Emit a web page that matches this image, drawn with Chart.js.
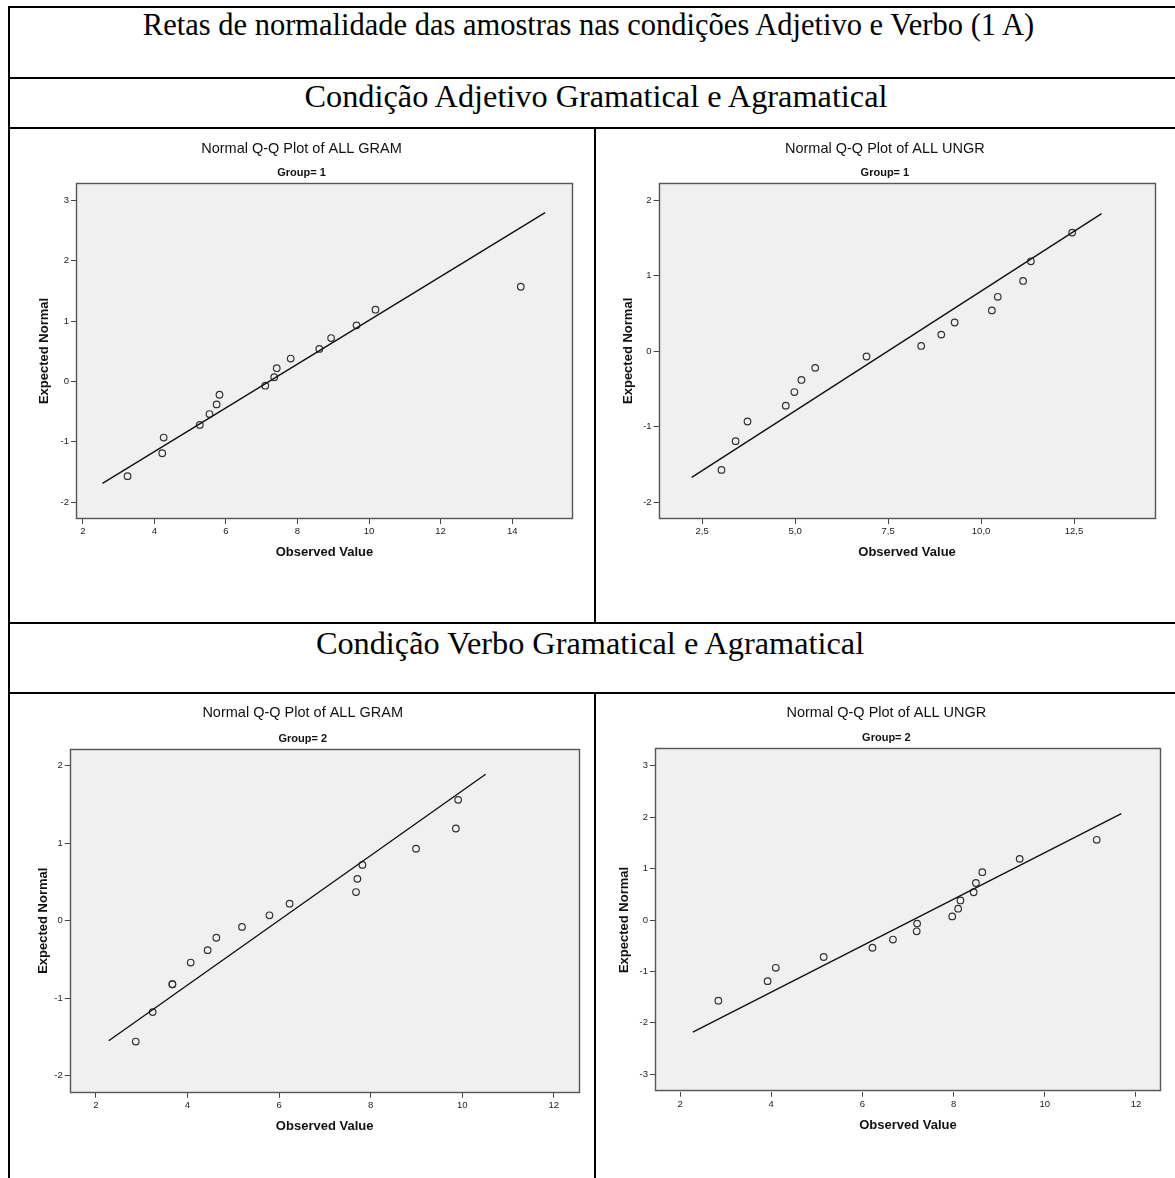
<!DOCTYPE html>
<html>
<head>
<meta charset="utf-8">
<script src="https://cdn.jsdelivr.net/npm/chart.js@4.4.0/dist/chart.umd.min.js"></script>
<style>
html, body { margin: 0; padding: 0; background: #fff; }
body { width: 1175px; height: 1178px; overflow: hidden; position: relative; }
.rule { position: absolute; background: #000; }
.cap { position: absolute; width: 1175px; text-align: center; white-space: nowrap;
       font-family: "Liberation Serif", "Times New Roman", serif; color: #000; }
.big { font-size: 30.5px; line-height: 30.5px; }
.sub { font-size: 32.3px; line-height: 32.3px; }
canvas { position: absolute; }
</style>
</head>
<body>
<!-- table rules -->
<div class="rule" style="left:8px;top:6px;width:1175px;height:2px"></div>
<div class="rule" style="left:8px;top:77px;width:1175px;height:2px"></div>
<div class="rule" style="left:8px;top:127px;width:1175px;height:2px"></div>
<div class="rule" style="left:8px;top:622px;width:1175px;height:2px"></div>
<div class="rule" style="left:8px;top:692px;width:1175px;height:2px"></div>
<div class="rule" style="left:8px;top:6px;width:2px;height:1200px"></div>
<div class="rule" style="left:594px;top:128px;width:2px;height:495px"></div>
<div class="rule" style="left:594px;top:693px;width:2px;height:500px"></div>

<div class="cap big" style="left:1px;top:10px">Retas de normalidade das amostras nas condições Adjetivo e Verbo (1 A)</div>
<div class="cap sub" style="left:8.5px;top:80px">Condição Adjetivo Gramatical e Agramatical</div>
<div class="cap sub" style="left:2.5px;top:627px">Condição Verbo Gramatical e Agramatical</div>

<canvas id="gram1"></canvas>
<canvas id="ungr1"></canvas>
<canvas id="gram2"></canvas>
<canvas id="ungr2"></canvas>

<script>
// Group 1, ALL GRAM
var gram1X = [3.25, 4.22, 4.26, 5.27, 5.54, 5.74, 5.82, 7.10, 7.35, 7.42, 7.81, 8.61, 8.94, 9.65, 10.18, 14.24];
var gram1Y = [-1.57, -1.19, -0.93, -0.72, -0.54, -0.38, -0.22, -0.07, 0.07, 0.22, 0.38, 0.54, 0.72, 0.93, 1.19, 1.57];
var gram1LineX = [2.55, 14.92];
var gram1LineY = [-1.69, 2.80];
var gram1XTicks = [2, 4, 6, 8, 10, 12, 14];
var gram1YTicks = [-2, -1, 0, 1, 2, 3];

// Group 1, ALL UNGR
var ungr1X = [3.02, 3.40, 3.72, 4.75, 4.98, 5.17, 5.54, 6.92, 8.39, 8.93, 9.29, 10.29, 10.45, 11.13, 11.34, 12.45];
var ungr1Y = [-1.57, -1.19, -0.93, -0.72, -0.54, -0.38, -0.22, -0.07, 0.07, 0.22, 0.38, 0.54, 0.72, 0.93, 1.19, 1.57];
var ungr1LineX = [2.22, 13.24];
var ungr1LineY = [-1.67, 1.82];
var ungr1XTicks = [2.5, 5.0, 7.5, 10.0, 12.5];
var ungr1YTicks = [-2, -1, 0, 1, 2];

// Group 2, ALL GRAM
var gram2X = [2.87, 3.24, 3.67, 3.67, 4.07, 4.44, 4.63, 5.19, 5.79, 6.23, 7.68, 7.71, 7.82, 8.99, 9.86, 9.91];
var gram2Y = [-1.56, -1.18, -0.82, -0.82, -0.54, -0.38, -0.22, -0.08, 0.07, 0.22, 0.37, 0.54, 0.72, 0.93, 1.19, 1.56];
var gram2LineX = [2.28, 10.51];
var gram2LineY = [-1.55, 1.89];
var gram2XTicks = [2, 4, 6, 8, 10, 12];
var gram2YTicks = [-2, -1, 0, 1, 2];

// Group 2, ALL UNGR
var ungr2X = [2.84, 3.92, 4.10, 5.15, 6.22, 6.67, 7.19, 7.20, 7.97, 8.10, 8.15, 8.44, 8.49, 8.63, 9.45, 11.14];
var ungr2Y = [-1.57, -1.19, -0.93, -0.72, -0.54, -0.38, -0.22, -0.07, 0.07, 0.22, 0.38, 0.54, 0.72, 0.93, 1.19, 1.56];
var ungr2LineX = [2.28, 11.68];
var ungr2LineY = [-2.18, 2.07];
var ungr2XTicks = [2, 4, 6, 8, 10, 12];
var ungr2YTicks = [-3, -2, -1, 0, 1, 2, 3];

var SANS = '"Liberation Sans", Arial, sans-serif';

// gray plot area with a thin frame, like the SPSS output
var framePlugin = {
	id: 'frame',
	beforeDraw: function(chart) {
		var a = chart.chartArea, c = chart.ctx;
		c.save();
		c.fillStyle = '#f0f0f0';
		c.fillRect(a.left, a.top, a.right - a.left, a.bottom - a.top);
		c.restore();
	},
	afterDraw: function(chart) {
		var a = chart.chartArea, c = chart.ctx;
		c.save();
		c.strokeStyle = '#555';
		c.lineWidth = 1.4;
		c.strokeRect(Math.round(a.left) + 0.5, Math.round(a.top) + 0.5,
			Math.round(a.right - a.left) - 1, Math.round(a.bottom - a.top) - 1);
		c.restore();
	}
};

function toPoints(xs, ys) {
	return xs.map(function(x, i) { return {x: x, y: ys[i]}; });
}

function qqPlot(id, box, area, pos, d) {
	var cv = document.getElementById(id);
	cv.width = box.w;
	cv.height = box.h;
	cv.style.left = box.x + 'px';
	cv.style.top = box.y + 'px';

	// everything below in canvas coordinates
	var L = area.l - box.x, R = area.r - box.x, T = area.t - box.y, B = area.b - box.y;
	var tY = pos.title - box.y, gY = pos.group - box.y;
	var tHalf = 14.5 * 1.2 / 2, gHalf = 11 * 1.2 / 2, aHalf = 13 * 1.2 / 2;
	// the title is centred between the left padding and the plot's right edge
	var padLeft = 2 * (pos.titleX - box.x) - R;
	var yTitlePad = pos.yTitle - box.x - aHalf - padLeft;
	var xH = pos.xTitle - box.y - B + aHalf;

	new Chart(cv, {
		type: 'scatter',
		data: {
			datasets: [
				{
					data: toPoints(d.lineX, d.lineY),
					showLine: true,
					borderColor: '#111',
					borderWidth: 1.4,
					pointRadius: 0,
					tension: 0
				},
				{
					data: toPoints(d.x, d.y),
					pointStyle: 'circle',
					pointRadius: 3.3,
					borderWidth: 1.2,
					borderColor: '#333',
					backgroundColor: 'rgba(0,0,0,0)'
				}
			]
		},
		options: {
			responsive: false,
			animation: false,
			events: [],
			layout: { padding: { left: padLeft, top: 0, right: box.w - R, bottom: box.h - B - xH } },
			plugins: {
				legend: { display: false },
				tooltip: { enabled: false },
				title: {
					display: true,
					text: d.title,
					color: '#111',
					font: { family: SANS, size: 14.5, weight: 'normal', lineHeight: 1.2 },
					padding: { top: tY - tHalf, bottom: gY - gHalf - (tY + tHalf) }
				},
				subtitle: {
					display: true,
					text: d.group,
					color: '#111',
					font: { family: SANS, size: 11, weight: 'bold', lineHeight: 1.2 },
					padding: { top: 0, bottom: T - (gY + gHalf) }
				}
			},
			scales: {
				x: {
					min: d.xMin, max: d.xMax,
					afterBuildTicks: function(s) { s.ticks = d.xTicks.map(function(v) { return {value: v}; }); },
					afterFit: function(s) { s.height = xH; },
					grid: { drawOnChartArea: false, drawTicks: true, tickLength: 5, tickColor: '#444', lineWidth: 1 },
					border: { display: false },
					ticks: {
						color: '#222', padding: 2, maxRotation: 0,
						font: { family: SANS, size: 9.5 },
						callback: d.xFmt
					},
					title: {
						display: true, text: 'Observed Value', color: '#111', padding: 0,
						font: { family: SANS, size: 13, weight: 'bold', lineHeight: 1.2 }
					}
				},
				y: {
					min: d.yMin, max: d.yMax,
					afterBuildTicks: function(s) { s.ticks = d.yTicks.map(function(v) { return {value: v}; }); },
					afterFit: function(s) { s.width = L - padLeft; },
					grid: { drawOnChartArea: false, drawTicks: true, tickLength: 5, tickColor: '#444', lineWidth: 1 },
					border: { display: false },
					ticks: {
						color: '#222', padding: 2,
						font: { family: SANS, size: 9.5 },
						callback: function(v) { return String(v); }
					},
					title: {
						display: true, text: 'Expected Normal', color: '#111',
						padding: { top: yTitlePad, bottom: 0 },
						font: { family: SANS, size: 13, weight: 'bold', lineHeight: 1.2 }
					}
				}
			}
		},
		plugins: [framePlugin]
	});
}

function intFmt(v) { return String(v); }
function commaFmt(v) { return v.toFixed(1).replace('.', ','); }

qqPlot('gram1',
	{x: 10, y: 129, w: 584, h: 493},
	{l: 76, r: 573, t: 183, b: 519},
	{title: 149.3, titleX: 301.5, group: 173.3, yTitle: 44.6, xTitle: 552.7},
	{x: gram1X, y: gram1Y, lineX: gram1LineX, lineY: gram1LineY, xTicks: gram1XTicks, yTicks: gram1YTicks,
	 xMin: 1.81, xMax: 15.7, yMin: -2.28, yMax: 3.29, xFmt: intFmt,
	 title: 'Normal Q-Q Plot of ALL GRAM', group: 'Group= 1'});

qqPlot('ungr1',
	{x: 596, y: 129, w: 585, h: 493},
	{l: 658.6, r: 1155.5, t: 182.7, b: 519},
	{title: 149.3, titleX: 884.9, group: 173.3, yTitle: 628.3, xTitle: 552.7},
	{x: ungr1X, y: ungr1Y, lineX: ungr1LineX, lineY: ungr1LineY, xTicks: ungr1XTicks, yTicks: ungr1YTicks,
	 xMin: 1.33, xMax: 14.69, yMin: -2.22, yMax: 2.23, xFmt: commaFmt,
	 title: 'Normal Q-Q Plot of ALL UNGR', group: 'Group= 1'});

qqPlot('gram2',
	{x: 10, y: 694, w: 584, h: 484},
	{l: 69.8, r: 579.5, t: 748.7, b: 1092.7},
	{title: 713.3, titleX: 302.7, group: 739, yTitle: 43.6, xTitle: 1126.7},
	{x: gram2X, y: gram2Y, lineX: gram2LineX, lineY: gram2LineY, xTicks: gram2XTicks, yTicks: gram2YTicks,
	 xMin: 1.43, xMax: 12.56, yMin: -2.22, yMax: 2.22, xFmt: intFmt,
	 title: 'Normal Q-Q Plot of ALL GRAM', group: 'Group= 2'});

qqPlot('ungr2',
	{x: 596, y: 694, w: 585, h: 484},
	{l: 655, r: 1161, t: 748.3, b: 1091.7},
	{title: 713.3, titleX: 886.4, group: 738.3, yTitle: 624.6, xTitle: 1125},
	{x: ungr2X, y: ungr2Y, lineX: ungr2LineX, lineY: ungr2LineY, xTicks: ungr2XTicks, yTicks: ungr2YTicks,
	 xMin: 1.45, xMax: 12.55, yMin: -3.34, yMax: 3.34, xFmt: intFmt,
	 title: 'Normal Q-Q Plot of ALL UNGR', group: 'Group= 2'});
</script>
</body>
</html>
